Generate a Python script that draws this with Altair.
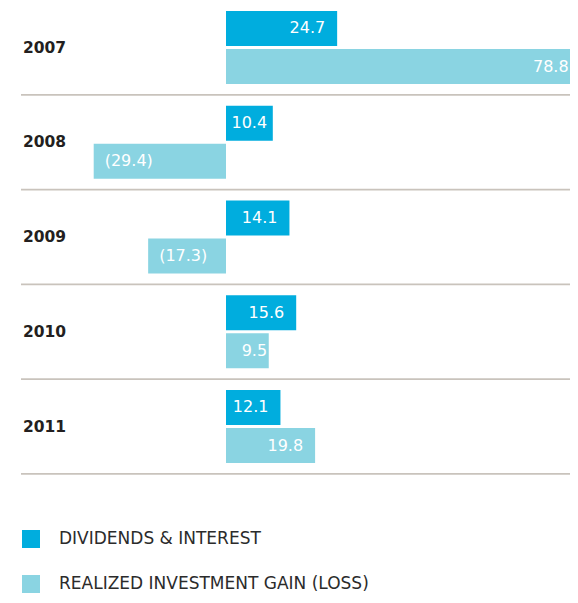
import altair as alt
import pandas as pd

years = ["2007", "2008", "2009", "2010", "2011"]
dividends = [24.7, 10.4, 14.1, 15.6, 12.1]
realized = [78.8, -29.4, -17.3, 9.5, 19.8]
series = ["DIVIDENDS & INTEREST", "REALIZED INVESTMENT GAIN (LOSS)"]
colors = ["#00ADDE", "#8AD4E2"]

rows = []
for i, y in enumerate(years):
    rows.append({"year": y, "series": series[0], "value": dividends[i]})
    rows.append({"year": y, "series": series[1], "value": realized[i]})
df = pd.DataFrame(rows)
years_df = pd.DataFrame({"year": years})
legend_df = pd.DataFrame({"series": series})

FONT = "DejaVu Sans"
PX_PER_UNIT = 4.5
ZERO_X = 218
W, H = 562, 587
x_scale = alt.Scale(domain=[-ZERO_X / PX_PER_UNIT, (W - ZERO_X) / PX_PER_UNIT], nice=False, zero=False)
y_range = [-7.875, 465.875]


def y_enc(**kw):
    return alt.Y("year:N", scale=alt.Scale(domain=years, range=y_range, paddingInner=0, paddingOuter=0),
                 axis=None, **kw)


yoff = alt.YOffset("series:N", scale=alt.Scale(domain=series, paddingInner=0.0789, paddingOuter=0.286))

bars = alt.Chart(df).mark_bar(cornerRadius=0).encode(
    x=alt.X("value:Q", scale=x_scale, axis=None),
    y=y_enc(),
    yOffset=yoff,
    color=alt.Color("series:N", scale=alt.Scale(domain=series, range=colors), legend=None),
)

label_calc = "datum.value < 0 ? '(' + format(-datum.value, '.1f') + ')' : format(datum.value, '.1f')"

pos_labels = alt.Chart(df).transform_filter("datum.value >= 0").transform_calculate(
    label=label_calc, lx="max(datum.value, 11.8)"
).mark_text(align="right", baseline="middle", dx=-12, color="white", font=FONT,
            fontSize=16).encode(
    x=alt.X("lx:Q", scale=x_scale, axis=None),
    y=y_enc(),
    yOffset=yoff,
    text="label:N",
)

neg_labels = alt.Chart(df).transform_filter("datum.value < 0").transform_calculate(
    label=label_calc
).mark_text(align="left", baseline="middle", dx=11, color="white", font=FONT,
            fontSize=16).encode(
    x=alt.X("value:Q", scale=x_scale, axis=None),
    y=y_enc(),
    yOffset=yoff,
    text="label:N",
)

year_labels = alt.Chart(years_df).mark_text(
    align="left", baseline="middle", font=FONT, fontWeight="bold", fontSize=15.5, color="#231F20"
).encode(
    x=alt.value(15),
    y=y_enc(),
    text="year:N",
)

separators = alt.Chart(years_df).mark_rule(color="#C9C3BC", strokeWidth=1.6).encode(
    y=y_enc(bandPosition=1),
    x=alt.value(13),
    x2=alt.value(W),
)

legend_y = alt.Y("series:N", scale=alt.Scale(domain=series, range=[531, 576], padding=0), axis=None)

legend_sq = alt.Chart(legend_df).mark_square(size=324, opacity=1).encode(
    x=alt.value(23),
    y=legend_y,
    color=alt.Color("series:N", scale=alt.Scale(domain=series, range=colors), legend=None),
)

legend_txt = alt.Chart(legend_df).mark_text(
    align="left", baseline="middle", font=FONT, fontSize=17, color="#2B2B2B"
).encode(
    x=alt.value(51),
    y=legend_y,
    text="series:N",
)

chart = alt.layer(
    separators, bars, pos_labels, neg_labels, year_labels, legend_sq, legend_txt
).resolve_scale(y="independent").properties(
    width=W, height=H, padding=0, autosize=alt.AutoSizeParams(type="none")
).configure_view(stroke=None)

chart.save("out.html", embed_options={"renderer": "svg", "actions": False})
